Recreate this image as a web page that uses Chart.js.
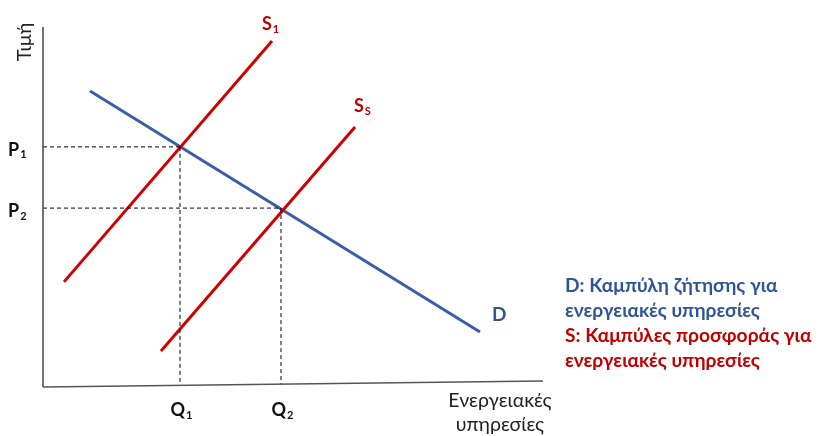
<!DOCTYPE html>
<html><head><meta charset="utf-8">
<script src="https://cdn.jsdelivr.net/npm/chart.js@4"></script>
<style>html,body{margin:0;padding:0;background:#fff}#wrap{width:821px;height:436px}</style>
</head><body><div id="wrap"><canvas id="c" width="821" height="436"></canvas></div>
<script>
// Data (conceptual units: quantity 0..100, price 0..100)
const demandQ = [9.4, 87.4];
const demandP = [82.2, 15.3];
const supply1Q = [4.2, 45.8];
const supply1P = [29.2, 96.1];
const supplySQ = [23.6, 62.4];
const supplySP = [10.0, 72.2];
const equilibriumQ = [27.4, 47.6];
const equilibriumP = [66.7, 49.7];
const xAxisQ = [0, 100];
const xAxisP = [0, 1.7];
const yAxisQ = [0, 0];
const yAxisP = [0, 100];
const priceLabels = ['P', 'P'];
const priceSubs = ['1', '2'];
const qtyLabels = ['Q', 'Q'];
const qtySubs = ['1', '2'];
const curveLabels = ['S', 'S', 'D'];
const curveSubs = ['1', 'S', ''];
const yTitle = 'Τιμή';
const xTitle = ['Ενεργειακές', 'υπηρεσίες'];
const legendLines = ['D: Καμπύλη ζήτησης για', 'ενεργειακές υπηρεσίες', 'S: Καμπύλες προσφοράς για', 'ενεργειακές υπηρεσίες'];

const BLUE = '#3B5EA6', RED = '#D00000', TBLUE = '#2F5597', TRED = '#C00000';
const pts = (xs, ys) => xs.map((x, i) => ({x, y: ys[i]}));
const axisXline = pts(xAxisQ, xAxisP);
const axisAt = q => xAxisP[0] + (xAxisP[1] - xAxisP[0]) * (q - xAxisQ[0]) / (xAxisQ[1] - xAxisQ[0]);

const datasets = [
  {data: pts(yAxisQ, yAxisP), borderColor: '#444', borderWidth: 1.5},
  {data: axisXline, borderColor: '#555', borderWidth: 1.5},
];
equilibriumQ.forEach((q, i) => {
  datasets.push({data: [{x: 0, y: equilibriumP[i]}, {x: q, y: equilibriumP[i]}], borderColor: '#000', borderWidth: 1, borderDash: [4, 3]});
  datasets.push({data: [{x: q, y: equilibriumP[i]}, {x: q, y: axisAt(q)}], borderColor: '#000', borderWidth: 1, borderDash: [4, 3]});
});
datasets.push({data: pts(supply1Q, supply1P), borderColor: RED, borderWidth: 3});
datasets.push({data: pts(supplySQ, supplySP), borderColor: RED, borderWidth: 3});
datasets.push({data: pts(demandQ, demandP), borderColor: BLUE, borderWidth: 3});
datasets.forEach(d => { d.showLine = true; d.pointRadius = 0; d.clip = false; d.borderCapStyle = 'butt'; });

function subText(ctx, main, sub, x, y, size, color, align) {
  ctx.fillStyle = color;
  ctx.font = 'bold ' + size + 'px Lato';
  const w1 = ctx.measureText(main).width;
  ctx.font = 'bold ' + Math.round(size * 0.62) + 'px Lato';
  const w2 = sub ? ctx.measureText(sub).width : 0;
  let x0 = align === 'center' ? x - (w1 + w2) / 2 : x;
  ctx.textAlign = 'left';
  ctx.textBaseline = 'middle';
  ctx.font = 'bold ' + size + 'px Lato';
  ctx.fillText(main, x0, y);
  if (sub) {
    ctx.font = 'bold ' + Math.round(size * 0.62) + 'px Lato';
    ctx.fillText(sub, x0 + w1 + 1, y + size * 0.28);
  }
}

const labelPlugin = {
  id: 'labels',
  afterDatasetsDraw(chart) {
    const ctx = chart.ctx, xs = chart.scales.x, ys = chart.scales.y;
    ctx.save();
    // Y title rotated
    ctx.save();
    ctx.translate(xs.getPixelForValue(0) - 18, ys.getPixelForValue(yAxisP[1]) + 15);
    ctx.rotate(-Math.PI / 2);
    ctx.font = '20px Lato'; ctx.fillStyle = '#222'; ctx.textAlign = 'center'; ctx.textBaseline = 'middle';
    ctx.fillText(yTitle, 0, 0);
    ctx.restore();
    // price labels
    equilibriumP.forEach((p, i) => subText(ctx, priceLabels[i], priceSubs[i], 8, ys.getPixelForValue(p) + 3, 18, '#111', 'left'));
    // qty labels
    equilibriumQ.forEach((q, i) => subText(ctx, qtyLabels[i], qtySubs[i], xs.getPixelForValue(q) + 1, ys.getPixelForValue(0) + 23, 18, '#111', 'center'));
    // curve labels
    subText(ctx, curveLabels[0], curveSubs[0], xs.getPixelForValue(supply1Q[1]) - 10, ys.getPixelForValue(supply1P[1]) - 17, 18, TRED, 'left');
    subText(ctx, curveLabels[1], curveSubs[1], xs.getPixelForValue(supplySQ[1]) - 1, ys.getPixelForValue(supplySP[1]) - 21, 18, TRED, 'left');
    subText(ctx, curveLabels[2], curveSubs[2], xs.getPixelForValue(demandQ[1]) + 12, ys.getPixelForValue(demandP[1]) - 17, 19, TBLUE, 'left');
    // x title
    ctx.font = '19.5px Lato'; ctx.fillStyle = '#222'; ctx.textAlign = 'center'; ctx.textBaseline = 'middle';
    const xc = xs.getPixelForValue(xAxisQ[1]) - 43;
    ctx.fillText(xTitle[0], xc, ys.getPixelForValue(0) + 14);
    ctx.fillText(xTitle[1], xc, ys.getPixelForValue(0) + 38);
    // legend
    ctx.font = 'bold 19.2px Lato'; ctx.textAlign = 'left';
    legendLines.forEach((t, i) => {
      ctx.fillStyle = i < 2 ? TBLUE : TRED;
      ctx.fillText(t, 565, 286 + i * 25);
    });
    ctx.restore();
  }
};

new Chart(document.getElementById('c'), {
  type: 'scatter',
  data: {datasets},
  options: {
    responsive: false,
    animation: false,
    devicePixelRatio: 1,
    layout: {padding: {left: 43, right: 278, top: 27, bottom: 49}},
    plugins: {legend: {display: false}, tooltip: {enabled: false}, title: {display: false}},
    scales: {
      x: {type: 'linear', min: 0, max: 100, display: false},
      y: {type: 'linear', min: 0, max: 100, display: false}
    }
  },
  plugins: [labelPlugin]
});
</script></body></html>
